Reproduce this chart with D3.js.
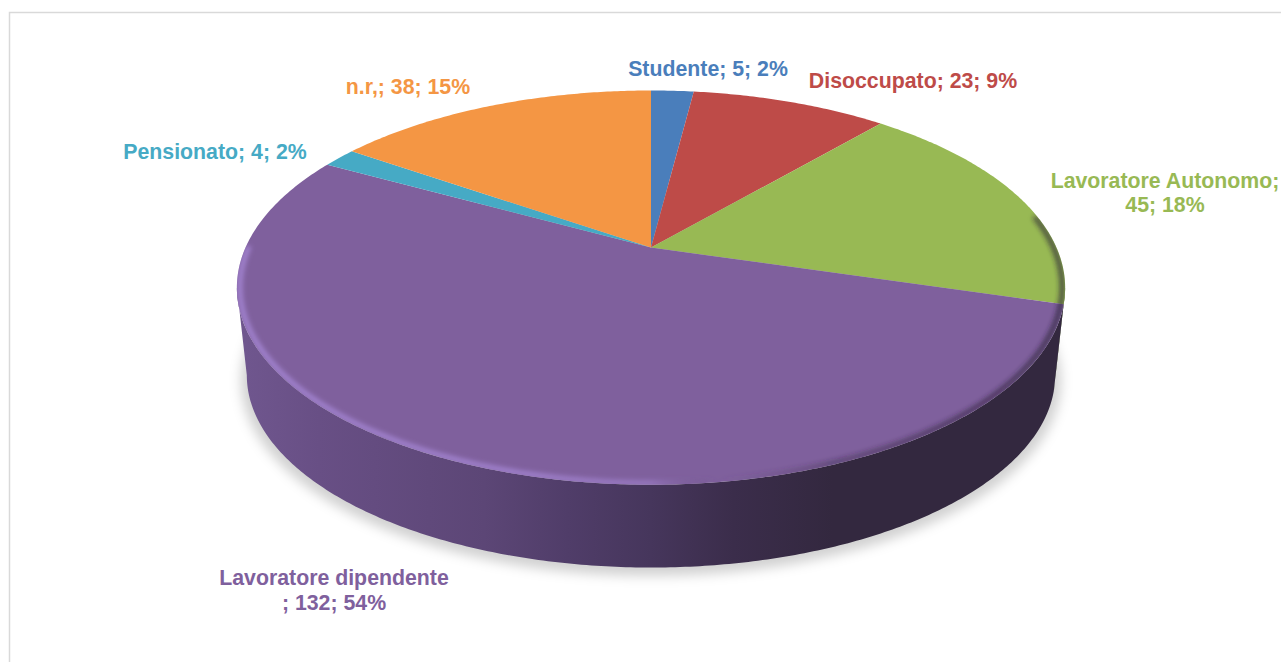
<!DOCTYPE html>
<html>
<head>
<meta charset="utf-8">
<script src="https://cdn.jsdelivr.net/npm/d3@7"></script>
<style>
    html, body {margin: 0; padding: 0; background: #fff; overflow: hidden;}
    text {font-family: "Liberation Sans", Arial, sans-serif; font-weight: bold; font-size: 21.3px;}
</style>
</head>
<body>
<div id="chart"></div>
<script>
const categories = ["Studente", "Disoccupato", "Lavoratore Autonomo", "Lavoratore dipendente", "Pensionato", "n.r,"];
const values = [5, 23, 45, 132, 4, 38];
const percents = [2, 9, 18, 54, 2, 15];
const colors = ["#4a7ebb", "#be4b48", "#98b954", "#7f609d", "#46aac5", "#f49644"];
const sideColors = ["#2c4769", "#6b2c2a", "#566a30", "#33283f", "#2a6070", "#8a5327"];

// where each label goes, one entry per line
const labelPos = [
    [{x: 708, y: 76}],
    [{x: 913, y: 88}],
    [{x: 1165, y: 188}, {x: 1165, y: 212}],
    [{x: 334, y: 585}, {x: 334, y: 610}],
    [{x: 215, y: 159}],
    [{x: 408, y: 94}]
];

const width = 1281, height = 662;

// pie geometry, perspective view of a flat disc
const cx = 651, cy = 247.6, radiusX = 405.5, radiusY = 189, persp = 0.203;
const depth = 88.5, bottomScale = 0.976;

const svg = d3.select("#chart").append("svg")
    .attr("width", width)
    .attr("height", height);

const defs = svg.append("defs");

// a = clockwise from 12 o'clock, in radians
function project(a, scale, dy) {
    let u = Math.sin(a), v = Math.cos(a);
    let d = 1 + persp * v;
    return [cx + scale * radiusX * u / d, cy + dy - scale * radiusY * v / d];
}

function ringPoints(a0, a1, scale, dy) {
    let n = Math.max(2, Math.ceil((a1 - a0) / 0.01));
    return d3.range(n + 1).map(i => project(a0 + (a1 - a0) * i / n, scale, dy));
}

const line = d3.line();

const pie = d3.pie().sort(null).value(d => d).startAngle(0).endAngle(2 * Math.PI);
const arcs = pie(values);

// the side of the disc shows between these two angles
const frontStart = Math.PI / 2 + Math.asin(persp);
const frontEnd = 3 * Math.PI / 2 - Math.asin(persp);

// filters
defs.append("filter").attr("id", "shadowBlur")
    .attr("x", "-10%").attr("y", "-10%").attr("width", "120%").attr("height", "120%")
    .append("feGaussianBlur").attr("stdDeviation", 6);
defs.append("filter").attr("id", "rimBlur")
    .attr("x", "-10%").attr("y", "-10%").attr("width", "120%").attr("height", "120%")
    .append("feGaussianBlur").attr("stdDeviation", 2.4);

// side gradient, runs left to right
const sideGrad = defs.append("linearGradient").attr("id", "sideGrad")
    .attr("gradientUnits", "userSpaceOnUse")
    .attr("x1", 236).attr("x2", 1065).attr("y1", 0).attr("y2", 0);
[[0, "#70578f"], [0.1, "#684f85"], [0.3, "#5c4676"], [0.4, "#503d69"], [0.5, "#46365c"],
    [0.6, "#3b2d4b"], [0.72, "#33283f"], [1, "#33283f"]].forEach(s =>
    sideGrad.append("stop").attr("offset", s[0]).attr("stop-color", s[1]));

// rim: light on the left, dark on the right
const rimGrad = defs.append("linearGradient").attr("id", "rimGrad")
    .attr("gradientUnits", "userSpaceOnUse")
    .attr("x1", 236).attr("x2", 1065).attr("y1", 0).attr("y2", 0);
[["0", "#a98ada", 0.9], ["0.35", "#a98ada", 0.85], ["0.5", "#a98ada", 0.6], ["0.58", "#5a4570", 0],
    ["0.72", "#2a2035", 0.4], ["1", "#2a2035", 0.75]].forEach(s =>
    rimGrad.append("stop").attr("offset", s[0]).attr("stop-color", s[1]).attr("stop-opacity", s[2]));

defs.append("clipPath").attr("id", "topClip")
    .append("path")
    .attr("d", line(ringPoints(0, 2 * Math.PI, 1, 0)) + "Z");

// frame of the chart area
svg.append("path")
    .attr("d", `M${width},12.5H9.5V${height}`)
    .attr("fill", "none")
    .attr("stroke", "#d9d9d9")
    .attr("stroke-width", 1.5);

// shadow under the disc
svg.append("path")
    .attr("d", line(ringPoints(0, 2 * Math.PI, 0.99, depth + 5)) + "Z")
    .attr("fill", "#000")
    .attr("fill-opacity", 0.18)
    .attr("filter", "url(#shadowBlur)");

// sides
svg.selectAll(".side")
    .data(arcs.filter(d => d.endAngle > frontStart && d.startAngle < frontEnd))
    .enter().append("path")
    .attr("class", "side")
    .attr("d", d => {
        let a0 = Math.max(d.startAngle, frontStart), a1 = Math.min(d.endAngle, frontEnd);
        let pts = ringPoints(a0, a1, 1, 0).concat(ringPoints(a0, a1, bottomScale, depth).reverse());
        return line(pts) + "Z";
    })
    .attr("fill", d => d.index === 3 ? "url(#sideGrad)" : sideColors[d.index]);

// top slices
svg.selectAll(".slice")
    .data(arcs)
    .enter().append("path")
    .attr("class", "slice")
    .attr("d", d => line([[cx, cy]].concat(ringPoints(d.startAngle, d.endAngle, 1, 0))) + "Z")
    .attr("fill", d => colors[d.index]);

// bevel along the front edge
svg.append("g").attr("clip-path", "url(#topClip)")
    .append("path")
    .attr("d", line(ringPoints(1.4, 4.72, 0.993, 0)))
    .attr("fill", "none")
    .attr("stroke", "url(#rimGrad)")
    .attr("stroke-width", 5)
    .attr("filter", "url(#rimBlur)");

// labels
const labels = svg.selectAll(".label")
    .data(arcs)
    .enter().append("text")
    .attr("class", "label")
    .attr("text-anchor", "middle")
    .attr("fill", d => colors[d.index]);

function labelLines(i) {
    let cat = categories[i], val = values[i], pct = percents[i];
    if (i === 2) return [cat + ";", val + "; " + pct + "%"];
    if (i === 3) return [cat, "; " + val + "; " + pct + "%"];
    return [cat + "; " + val + "; " + pct + "%"];
}

labels.selectAll("tspan")
    .data(d => labelLines(d.index).map((t, j) => ({t: t, pos: labelPos[d.index][j]})))
    .enter().append("tspan")
    .attr("x", d => d.pos.x)
    .attr("y", d => d.pos.y)
    .text(d => d.t);
</script>
</body>
</html>
